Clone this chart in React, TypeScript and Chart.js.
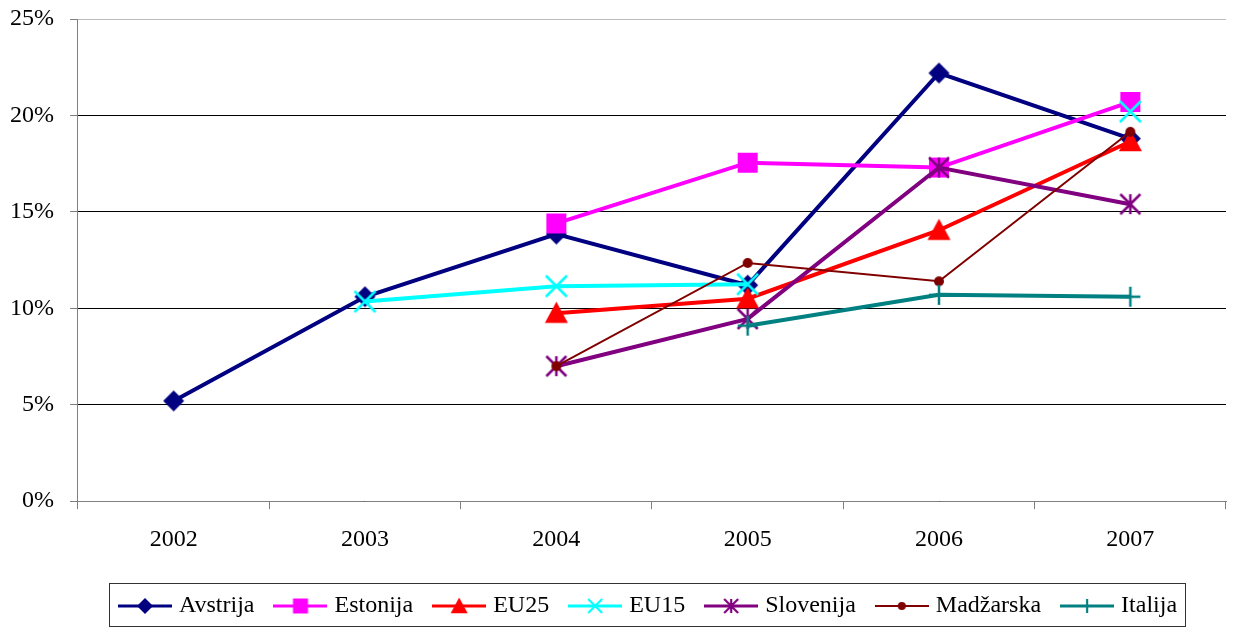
import React, { useEffect, useRef } from 'react';
import { Chart, registerables } from 'chart.js';

Chart.register(...registerables);

const years = ['2002', '2003', '2004', '2005', '2006', '2007'];
const avstrija = [5.2, 10.6, 13.85, 11.2, 22.2, 18.8];
const estonija = [null, null, 14.4, 17.55, 17.3, 20.7];
const eu25 = [null, null, 9.75, 10.5, 14.05, 18.65];
const eu15 = [null, 10.35, 11.15, 11.25, null, 20.2];
const slovenija = [null, null, 7.0, 9.45, 17.3, 15.4];
const madzarska = [null, null, 7.0, 12.35, 11.4, 19.15];
const italija = [null, null, null, 9.1, 10.7, 10.6];
const yTickValues = [0, 5, 10, 15, 20, 25];

const seriesNames = ['Avstrija', 'Estonija', 'EU25', 'EU15', 'Slovenija', 'Madžarska', 'Italija'];
const seriesData = [avstrija, estonija, eu25, eu15, slovenija, madzarska, italija];
const seriesColors = ['#000080', '#FF00FF', '#FF0000', '#00FFFF', '#800080', '#800000', '#008080'];
type Marker = 'diamond' | 'square' | 'triangle' | 'x' | 'star' | 'dot' | 'plus';
const seriesMarkers: Marker[] = ['diamond', 'square', 'triangle', 'x', 'star', 'dot', 'plus'];
const seriesLineWidths = [4, 4, 4, 4, 4, 2, 4];
const pointSizes = [10.5, 10, 11.5, 10.5, 10, 5, 10];
const legendSizes = [8, 7.5, 8.5, 7, 7, 4, 7];

function drawMarker(ctx: CanvasRenderingContext2D, m: Marker, x: number, y: number, s: number, color: string, lw: number) {
  ctx.fillStyle = color;
  ctx.strokeStyle = color;
  ctx.lineWidth = lw;
  ctx.beginPath();
  switch (m) {
    case 'diamond':
      ctx.moveTo(x, y - s); ctx.lineTo(x + s, y); ctx.lineTo(x, y + s); ctx.lineTo(x - s, y); ctx.closePath(); ctx.fill();
      break;
    case 'square':
      ctx.rect(x - s, y - s, 2 * s, 2 * s); ctx.fill();
      break;
    case 'triangle':
      ctx.moveTo(x, y - s); ctx.lineTo(x + s, y + s * 0.85); ctx.lineTo(x - s, y + s * 0.85); ctx.closePath(); ctx.fill();
      break;
    case 'x':
      ctx.moveTo(x - s, y - s); ctx.lineTo(x + s, y + s); ctx.moveTo(x + s, y - s); ctx.lineTo(x - s, y + s); ctx.stroke();
      break;
    case 'star':
      ctx.moveTo(x - s, y - s); ctx.lineTo(x + s, y + s); ctx.moveTo(x + s, y - s); ctx.lineTo(x - s, y + s);
      ctx.moveTo(x, y - s); ctx.lineTo(x, y + s); ctx.stroke();
      break;
    case 'dot':
      ctx.arc(x, y, s, 0, Math.PI * 2); ctx.fill();
      break;
    case 'plus':
      ctx.moveTo(x - s, y); ctx.lineTo(x + s, y); ctx.moveTo(x, y - s); ctx.lineTo(x, y + s); ctx.stroke();
      break;
  }
}

function makePointImage(i: number) {
  const s = pointSizes[i];
  const size = Math.ceil(2 * s + 6);
  const c = document.createElement('canvas');
  c.width = size; c.height = size;
  const ctx = c.getContext('2d')!;
  drawMarker(ctx, seriesMarkers[i], size / 2, size / 2, s, seriesColors[i], 2.5);
  return c;
}

function makeLegendImage(i: number) {
  const w = 54, h = 22;
  const c = document.createElement('canvas');
  c.width = w; c.height = h;
  const ctx = c.getContext('2d')!;
  ctx.strokeStyle = seriesColors[i];
  ctx.lineWidth = seriesLineWidths[i] < 3 ? 2 : 3;
  ctx.beginPath(); ctx.moveTo(0, h / 2); ctx.lineTo(w, h / 2); ctx.stroke();
  drawMarker(ctx, seriesMarkers[i], w / 2, h / 2, legendSizes[i], seriesColors[i], 2.2);
  return c;
}

const legendShiftPlugin = {
  id: 'legendShift',
  afterLayout(chart: any) {
    const lg = chart.legend;
    if (!lg) return;
    lg.left += 38;
    lg.right += 38;
  },
};

const legendBoxPlugin = {
  id: 'legendBox',
  afterDraw(chart: any) {
    const lg = chart.legend;
    if (!lg || !lg.legendHitBoxes || !lg.legendHitBoxes.length) return;
    const hb = lg.legendHitBoxes;
    let left = Infinity, right = -Infinity;
    hb.forEach((h: any) => { left = Math.min(left, h.left); right = Math.max(right, h.left + h.width); });
    const cy = hb[0].top + hb[0].height / 2;
    const ctx = chart.ctx;
    const top = Math.min(Math.round(cy - 23), 583);
    const bottom = Math.min(top + 44, chart.height - 2);
    ctx.save();
    ctx.strokeStyle = '#333333';
    ctx.lineWidth = 1;
    ctx.strokeRect(Math.round(left - 14) + 0.5, top + 0.5, Math.round(right - left + 22), bottom - top);
    ctx.restore();
  },
};

export default function App() {
  const ref = useRef<HTMLCanvasElement | null>(null);
  useEffect(() => {
    if (!ref.current) return;
    Chart.defaults.font.family = "'Liberation Serif', 'Times New Roman', serif";
    Chart.defaults.font.size = 24;
    Chart.defaults.color = '#000000';
    const legendImgs = seriesNames.map((_, i) => makeLegendImage(i));
    const chart = new Chart(ref.current, {
      type: 'line',
      data: {
        labels: years,
        datasets: seriesNames.map((name, i) => ({
          label: name,
          data: seriesData[i],
          borderColor: seriesColors[i],
          backgroundColor: seriesColors[i],
          borderWidth: seriesLineWidths[i],
          pointStyle: makePointImage(i) as any,
          pointRadius: 6,
          pointHoverRadius: 6,
          spanGaps: false,
          tension: 0,
          order: 7 - i,
        })),
      },
      options: {
        responsive: false,
        animation: false,
        events: [],
        layout: { padding: { left: -6, right: 6, top: 19, bottom: 0 } },
        plugins: {
          tooltip: { enabled: false },
          legend: {
            position: 'bottom',
            labels: {
              usePointStyle: true,
              pointStyleWidth: 44,
              padding: 24,
              font: { size: 24 },
              color: '#000000',
              generateLabels: () =>
                seriesNames.map((name, i) => ({
                  text: name,
                  pointStyle: legendImgs[i] as any,
                  datasetIndex: i,
                  fillStyle: 'transparent',
                  strokeStyle: 'transparent',
                  lineWidth: 0,
                  hidden: false,
                  fontColor: '#000000',
                })),
            },
          },
        },
        scales: {
          x: {
            offset: true,
            afterFit: (scale: any) => { scale.paddingLeft = 0; scale.paddingRight = 0; },
            grid: { display: true, drawOnChartArea: false, offset: true, tickLength: 8, color: '#808080' },
            border: { color: '#808080' },
            ticks: { padding: 16, color: '#000000' },
          },
          y: {
            min: 0,
            max: 25,
            afterBuildTicks: (scale: any) => { scale.ticks = yTickValues.map((v) => ({ value: v })); },
            afterFit: (scale: any) => { scale.paddingTop = 0; scale.paddingBottom = 0; },
            ticks: { padding: 16, callback: (v: any) => v + '%', color: '#000000' },
            grid: {
              color: (c: any) => (c.tick && c.tick.value === 25 ? '#bbbbbb' : '#000000'),
              tickColor: '#808080',
              tickLength: 8,
            },
            border: { color: '#808080' },
          },
        },
      },
      plugins: [legendShiftPlugin, legendBoxPlugin],
    });
    return () => chart.destroy();
  }, []);
  return (
    <div style={{ position: 'absolute', left: 0, top: 0, width: 1236, height: 628, background: '#fff' }}>
      <canvas ref={ref} width={1236} height={628} />
    </div>
  );
}
